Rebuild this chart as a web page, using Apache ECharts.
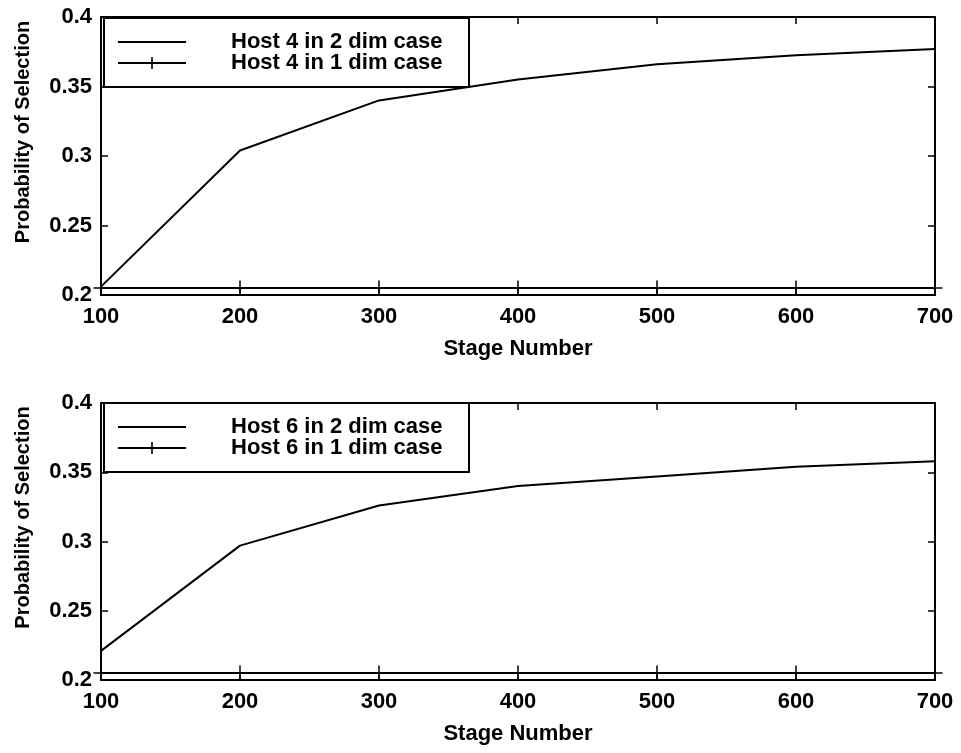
<!DOCTYPE html>
<html>
<head>
<meta charset="utf-8">
<script src="https://cdn.jsdelivr.net/npm/echarts@6/dist/echarts.min.js"></script>
<style>
html,body{margin:0;padding:0;background:#fff;}
#c{width:961px;height:753px;}
</style>
</head>
<body>
<div id="c"></div>
<script>
// ---- data ----
var stages = [100, 200, 300, 400, 500, 600, 700];
var host4TwoDim = [0.206, 0.304, 0.340, 0.355, 0.366, 0.3725, 0.377];
var host4OneDim = [0.205, 0.205, 0.205, 0.205, 0.205, 0.205, 0.205];
var host6TwoDim = [0.221, 0.297, 0.326, 0.340, 0.347, 0.354, 0.358];
var host6OneDim = [0.205, 0.205, 0.205, 0.205, 0.205, 0.205, 0.205];
var yTicks = ['0.2', '0.25', '0.3', '0.35', '0.4'];
var legendTop = ['Host 4 in 2 dim case', 'Host 4 in 1 dim case'];
var legendBottom = ['Host 6 in 2 dim case', 'Host 6 in 1 dim case'];

function pairs(xs, ys) { return xs.map(function (x, i) { return [x, ys[i]]; }); }

var FONT = 'Liberation Sans';
var plusSym = 'path://M-0.1,-1 L0.1,-1 L0.1,-0.1 L1,-0.1 L1,0.1 L0.1,0.1 L0.1,1 L-0.1,1 L-0.1,0.1 L-1,0.1 L-1,-0.1 L-0.1,-0.1 Z';
var lineIcon = 'path://M0,5.1 L68,5.1 L68,6.9 L0,6.9 Z';
var plusLineIcon = 'path://M0,5.1 L68,5.1 L68,6.9 L0,6.9 Z M33.2,0 L34.8,0 L34.8,12 L33.2,12 Z';

var grids = [
  { left: 101, top: 17, width: 834, height: 278 },
  { left: 101, top: 403, width: 834, height: 277 }
];

var tickStyle = { show: true, inside: true, length: 7, lineStyle: { color: '#000', width: 1.5 } };
var axisLineStyle = { show: true, lineStyle: { color: '#000', width: 2 } };

var xAxes = [], yAxes = [];
grids.forEach(function (g, gi) {
  xAxes.push({
    type: 'value', gridIndex: gi, min: 100, max: 700, interval: 100, position: 'bottom',
    name: 'Stage Number', nameLocation: 'middle', nameGap: 43,
    nameTextStyle: { color: '#000', fontSize: 22, fontWeight: 'bold', fontFamily: FONT },
    axisLine: axisLineStyle, axisTick: tickStyle,
    axisLabel: { color: '#000', fontSize: 22, fontWeight: 'bold', fontFamily: FONT, margin: 11 },
    splitLine: { show: false }
  });
  xAxes.push({
    type: 'value', gridIndex: gi, min: 100, max: 700, interval: 100, position: 'top',
    axisLine: axisLineStyle, axisTick: tickStyle,
    axisLabel: { show: false }, splitLine: { show: false }
  });
  yAxes.push({
    type: 'value', gridIndex: gi, min: 0.2, max: 0.4, interval: 0.05, position: 'left',
    name: 'Probability of Selection', nameLocation: 'middle', nameGap: 68,
    nameTextStyle: { color: '#000', fontSize: 20, fontWeight: 'bold', fontFamily: FONT, padding: [0, 0, 0, 48] },
    axisLine: axisLineStyle, axisTick: tickStyle,
    axisLabel: { color: '#000', fontSize: 22, fontWeight: 'bold', fontFamily: FONT, margin: 9,
      formatter: function (v) { var i = Math.round((v - 0.2) / 0.05); return yTicks[i]; } },
    splitLine: { show: false }
  });
  yAxes.push({
    type: 'value', gridIndex: gi, min: 0.2, max: 0.4, interval: 0.05, position: 'right',
    axisLine: axisLineStyle, axisTick: tickStyle,
    axisLabel: { show: false }, splitLine: { show: false }
  });
});

function lineSeries(name, data, gi, withPlus) {
  return {
    name: name, type: 'line', xAxisIndex: gi * 2, yAxisIndex: gi * 2,
    data: data, color: '#000',
    lineStyle: { color: '#000', width: 2 },
    symbol: withPlus ? plusSym : 'none', symbolSize: 15,
    itemStyle: { color: '#000' },
    showSymbol: !!withPlus, animation: false, z: 3
  };
}

function legend(names, top) {
  return {
    orient: 'vertical', left: 104, top: top,
    backgroundColor: '#fff', borderColor: '#000', borderWidth: 2,
    padding: [13, 12, 13, 14], itemGap: -1, itemWidth: 68, itemHeight: 12,
    data: [{ name: names[0], icon: lineIcon }, { name: names[1], icon: plusLineIcon }],
    textStyle: { color: '#000', fontSize: 22, fontWeight: 'bold', fontFamily: FONT,
      lineHeight: 20, width: 226, padding: [0, 0, 0, 40] },
    selectedMode: false
  };
}

var chart = echarts.init(document.getElementById('c'), null, { renderer: 'canvas' });
chart.setOption({
  animation: false,
  backgroundColor: '#fff',
  grid: grids,
  xAxis: xAxes,
  yAxis: yAxes,
  legend: [legend(legendTop, 18), legend(legendBottom, 403)],
  series: [
    lineSeries(legendTop[0], pairs(stages, host4TwoDim), 0, false),
    lineSeries(legendTop[1], pairs(stages, host4OneDim), 0, true),
    lineSeries(legendBottom[0], pairs(stages, host6TwoDim), 1, false),
    lineSeries(legendBottom[1], pairs(stages, host6OneDim), 1, true)
  ]
});
</script>
</body>
</html>
